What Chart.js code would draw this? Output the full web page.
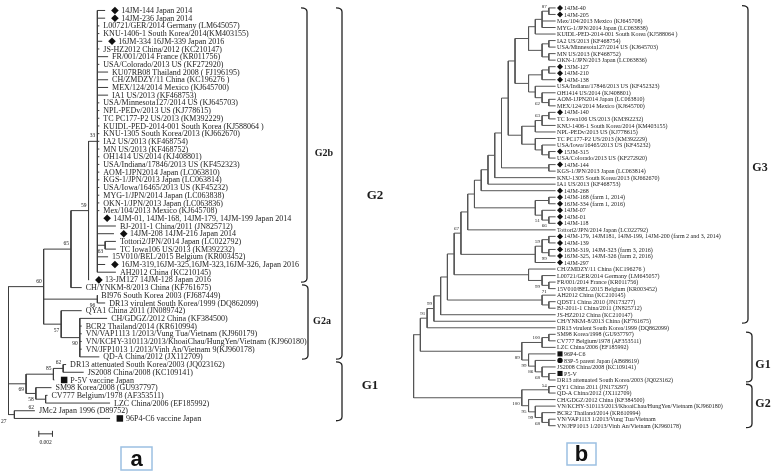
<!DOCTYPE html>
<html>
<head>
<meta charset="utf-8">
<title>PEDV S gene trees</title>
<script src="https://cdn.jsdelivr.net/npm/chart.js@4.4.1/dist/chart.umd.min.js"></script>
<style>
  body { margin: 0; background: #fff; }
  canvas { position: absolute; top: 0; }
</style>
</head>
<body>
<canvas id="treeA" width="390" height="472" style="left:0"></canvas>
<canvas id="treeB" width="388" height="472" style="left:390px"></canvas>
<script>
// ---------- tree a : distance tree (substitutions per site) ----------
const leafNamesA = [
  '14JM-144 Japan 2014', '14JM-236 Japan 2014', 'L00721/GER/2014 Germany (LM645057)',
  'KNU-1406-1 South Korea/2014(KM403155)', '16JM-334 16JM-339 Japan 2016', 'JS-HZ2012 China/2012 (KC210147)',
  'FR/001/2014 France (KR011756)', 'USA/Colorado/2013 US (KF272920)', 'KU07RB08 Thailand 2008 ( FJ196195)',
  'CH/ZMDZY/11 China (KC196276 )', 'MEX/124/2014 Mexico (KJ645700)', 'IA1 US/2013 (KF468753)',
  'USA/Minnesota127/2014 US (KJ645703)', 'NPL-PEDv/2013 US (KJ778615)', 'TC PC177-P2 US/2013 (KM392229)',
  'KUIDL-PED-2014-001 South Korea (KJ588064 )', 'KNU-1305 South Korea/2013 (KJ662670)', 'IA2 US/2013 (KF468754)',
  'MN US/2013 (KF468752)', 'OH1414 US/2014 (KJ408801)', 'USA/Indiana/17846/2013 US (KF452323)',
  'AOM-1JPN2014 Japan (LC063810)', 'KGS-1/JPN/2013 Japan (LC063814)', 'USA/Iowa/16465/2013 US (KF45232)',
  'MYG-1/JPN/2014 Japan (LC063838)', 'OKN-1/JPN/2013 Japan (LC063836)', 'Mex/104/2013 Mexico (KJ645708)',
  '14JM-01, 14JM-168, 14JM-179, 14JM-199 Japan 2014', 'BJ-2011-1 China/2011 (JN825712)', '14JM-208 14JM-216 Japan 2014',
  'Tottori2/JPN/2014 Japan (LC022792)', 'TC Iowa106 US/2013 (KM392232)', '15V010/BEL/2015 Belgium (KR003452)',
  '16JM-319,16JM-325,16JM-323,16JM-326, Japan 2016', 'AH2012 China (KC210145)', '13-JM127 14JM-128 Japan 2016',
  'CH/YNKM-8/2013 China (KF761675)', 'BI976 South Korea 2003 (FJ687449)', 'DR13 virulent South Korea/1999 (DQ862099)',
  'QYA1 China 2011 (JN089742)', 'CH/GDGZ/2012 China (KF384500)', 'BCR2 Thailand/2014 (KR610994)',
  'VN/VAP1113 1/2013/Vung Tua/Vietnam (KJ960179)', 'VN/KCHY-310113/2013/KhoaiChau/HungYen/Vietnam (KJ960180)',
  'VN/JFP1013 1/2013/Vinh An/Vietnam 9(KJ960178)', 'QD-A China/2012 (JX112709)',
  'DR13 attenuated South Korea/2003 (JQ023162)', 'JS2008 China/2008 (KC109141)', 'P-5V vaccine Japan',
  'SM98 Korea/2008 (GU937797)', 'CV777 Belgium/1978 (AF353511)', 'LZC China/2006 (EF185992)',
  'JMc2 Japan 1996 (D89752)', '96P4-C6 vaccine Japan'
];
const diamondLeavesA = [0, 1, 4, 27, 29, 33, 35];
const squareLeavesA = [48, 53];
const circleLeavesA = [];
// end of each terminal branch
const leafTipA = [
  0.01414, 0.01414, 0.01329, 0.01329, 0.01371, 0.01329, 0.01457, 0.01329, 0.01457, 0.01457,
  0.01457, 0.01457, 0.01329, 0.01329, 0.01329, 0.01329, 0.01329, 0.01329, 0.01329, 0.01329,
  0.01329, 0.01329, 0.01329, 0.01329, 0.01329, 0.01329, 0.01329, 0.01300, 0.01571, 0.01543,
  0.01571, 0.01571, 0.01457, 0.01414, 0.01571, 0.01179, 0.01071, 0.01300, 0.01414, 0.01071,
  0.01443, 0.01071, 0.01071, 0.01071, 0.01071, 0.01329, 0.00843, 0.01100, 0.00671, 0.00629,
  0.00571, 0.01486, 0.00386, 0.01486
];
// internal nodes: id, depth, bootstrap, children (leaf index or node id)
const nodesA = [
  ['n63', 0.01414, '63', [30, 31]],
  ['n33', 0.01300, '33', [0, 1, 2, 3, 4, 5, 6, 7, 8, 9, 10, 11, 12, 13, 14, 15, 16, 17, 18, 19,
                          20, 21, 22, 23, 24, 25, 26, 27, 28, 29, 'n63', 32, 33, 34]],
  ['n59', 0.01171, '59', ['n33', 35]],
  ['n65', 0.00914, '65', ['n59', 36]],
  ['n96', 0.01300, '96', [37, 38]],
  ['n90', 0.01043, '90', [40, 41, 42, 43, 44, 45]],
  ['n57', 0.00771, '57', [39, 'n90']],
  ['g2', 0.00514, '60', ['n65', 'n96', 'n57']],
  ['n62', 0.00800, '62', [46, 47]],
  ['n85', 0.00657, '85', ['n62', 48]],
  ['nC', 0.00543, '', [50, 51]],
  ['n58', 0.00400, '58', [49, 'nC']],
  ['n69', 0.00257, '69', ['n85', 'n58']],
  ['nJ', 0.00086, '62', [52, 53]],
  ['root', 0, '27', ['g2', 'n69', 'nJ']]
];
const cladeNamesA = ['G2b', 'G2', 'G2a', 'G1'];
const cladeFirstA = [0, 0, 36, 46];
const cladeLastA = [35, 45, 45, 53];
const cladeLabelRowA = [18.6, 24.1, 40.4, 48.7];
const scaleBarA = 0.002;

// ---------- tree b : cladogram, tips aligned ----------
const leafNamesB = [
  '14JM-40', '14JM-205', 'Mex/104/2013 Mexico (KJ645708)', 'MYG-1/JPN/2014 Japan (LC063838)',
  'KUIDL-PED-2014-001 South Korea (KJ588064 )', 'IA2 US/2013 (KF468754)', 'USA/Minnesota127/2014 US (KJ645703)',
  'MN US/2013 (KF468752)', 'OKN-1/JPN/2013 Japan (LC063836)', '13JM-127', '14JM-210', '14JM-138',
  'USA/Indiana/17846/2013 US (KF452323)', 'OH1414 US/2014 (KJ408801)', 'AOM-1JPN2014 Japan (LC063810)',
  'MEX/124/2014 Mexico (KJ645700)', '14JM-140', 'TC Iowa106 US/2013 (KM392232)',
  'KNU-1406-1 South Korea/2014 (KM403155)', 'NPL-PEDv/2013 US (KJ778615)', 'TC PC177-P2 US/2013 (KM392229)',
  'USA/Iowa/16465/2013 US (KF45232)', '15JM-315', 'USA/Colorado/2013 US (KF272920)', '14JM-144',
  'KGS-1/JPN/2013 Japan (LC063814)', 'KNU-1305 South Korea/2013 (KJ662670)', 'IA1 US/2013 (KF468753)',
  '14JM-268', '14JM-168 (farm 1, 2014)', '16JM-334 (farm 1, 2016)', '14JM-07', '14JM-01', '14JM-118',
  'Tottori2/JPN/2014 Japan (LC022792)', '14JM-179, 14JM181, 14JM-199, 14JM-200 (farm 2 and 3, 2014)',
  '14JM-139', '16JM-319, 14JM-323 (farm 3, 2016)', '16JM-325, 14JM-326 (farm 2, 2016)', '14JM-297',
  'CH/ZMDZY/11 China (KC196276 )', 'L00721/GER/2014 Germany (LM645057)', 'FR/001/2014 France (KR011756)',
  '15V010/BEL/2015 Belgium (KR003452)', 'AH2012 China (KC210145)', 'QDST1 China 2010 (JN173277)',
  'BJ-2011-1 China/2011 (JN825712)', 'JS-HZ2012 China (KC210147)', 'CH/YNKM-8/2013 China (KF761675)',
  'DR13 virulent South Korea/1999 (DQ862099)', 'SM98 Korea/1998 (GU937797)', 'CV777 Belgium/1978 (AF353511)',
  'LZC China/2006 (EF185992)', '96P4-C6', '83P-5 parent Japan (AB68619)', 'JS2008 China/2008 (KC109141)',
  'P5-V', 'DR13 attenuated South Korea/2003 (JQ023162)', 'QY1 China 2011 (JN173297)',
  'QD-A China/2012 (JX112709)', 'CH/GDGZ/2012 China (KF384500)',
  'VN/KCHY-310113/2013/KhoaiChau/HungYen/Vietnam (KJ960180)', 'BCR2 Thailand/2014 (KR610994)',
  'VN/VAP1113 1/2013/Vung Tua/Vietnam', 'VN/JFP1013 1/2013/Vinh An/Vietnam (KJ960178)'
];
const diamondLeavesB = [0, 1, 9, 10, 11, 16, 22, 24, 28, 29, 30, 31, 32, 33, 35, 36, 37, 38, 39];
const squareLeavesB = [53, 56];
const circleLeavesB = [54];
// node height in levels above the aligned tips
const nodesB = [
  ['b1', 1, '87', [0, 1]],
  ['b2', 2, '', ['b1', 2, 3]],
  ['b3', 3, '', ['b2', 4]],
  ['b4', 1, '', [5, 6]],
  ['b5', 1, '', [7, 8]],
  ['b6', 2, '', ['b4', 'b5']],
  ['b7', 4, '', ['b3', 'b6']],
  ['b8', 1, '', [9, 10]],
  ['b9', 2, '', ['b8', 11]],
  ['b10', 1, '', [14, 15]],
  ['b11', 2, '62', [13, 'b10']],
  ['b12', 3, '', [12, 'b11']],
  ['b13', 4, '', ['b9', 'b12']],
  ['b14', 6, '', ['b7', 'b13']],
  ['b15', 1, '', [16, 17]],
  ['b16', 2, '63', ['b15', 18]],
  ['b17', 3, '', ['b16', 19]],
  ['b18', 1, '', [22, 23]],
  ['b19', 2, '', [21, 'b18']],
  ['b20', 3, '', [20, 'b19']],
  ['b21', 5, '', ['b17', 'b20']],
  ['b22', 7, '', ['b14', 'b21']],
  ['b23', 1, '', [24, 25]],
  ['b24', 8, '', ['b22', 'b23']],
  ['b25', 9, '', ['b24', 26]],
  ['b26', 10, '', ['b25', 27]],
  ['b27', 11, '', ['b26', 28]],
  ['b28', 1, '', [29, 30]],
  ['b29', 1, '66', [32, 33]],
  ['b30', 2, '51', [31, 'b29']],
  ['b31', 3, '', ['b28', 'b30']],
  ['b32', 12, '', ['b27', 'b31']],
  ['b33', 13, '', ['b32', 34]],
  ['b35', 1, '', [35, 36]],
  ['b36', 1, '99', [37, 38]],
  ['b37', 2, '59', ['b35', 'b36']],
  ['b38', 3, '', ['b37', 39]],
  ['b39', 14, '67', ['b33', 'b38']],
  ['b40', 1, '71', [42, 43]],
  ['b41', 2, '99', [41, 'b40']],
  ['b42', 4, '', [40, 'b41']],
  ['b43', 15, '', ['b39', 'b42']],
  ['b44a', 1, '', [45, 46]],
  ['b44', 2, '', [44, 'b44a']],
  ['b45', 16, '', ['b43', 'b44']],
  ['b46', 17, '', ['b45', 47]],
  ['b47', 18, '99', ['b46', 48]],
  ['b48', 19, '91', ['b47', 49]],
  ['g1a', 1, '', [50, 51]],
  ['g1b', 2, '100', ['g1a', 52]],
  ['g1c', 1, '', [56, 57]],
  ['g1d', 2, '68', [55, 'g1c']],
  ['g1e', 3, '86', [54, 'g1d']],
  ['g1f', 4, '99', [53, 'g1e']],
  ['g1', 5, '89', ['g1b', 'g1f']],
  ['b49', 20, '', ['b48', 'g1']],
  ['g2a', 1, '54', [58, 59]],
  ['g2b', 1, '', [63, 64]],
  ['g2c', 2, '68', [62, 'g2b']],
  ['g2d', 3, '99', [61, 'g2c']],
  ['g2e', 4, '95', [60, 'g2d']],
  ['g2', 5, '100', ['g2a', 'g2e']],
  ['root', 21, '', ['b49', 'g2']]
];
const cladeNamesB = ['G3', 'G1', 'G2'];
const cladeFirstB = [0, 50, 58];
const cladeLastB = [48, 57, 64];
const cladeLabelRowB = [24.5, 54.7, 60.7];

// ---------- helpers ----------
function layoutTree(nodes, tips) {
  const def = {};
  nodes.forEach(function (n) { def[n[0]] = n; });
  const placed = [];
  function place(ref, first) {
    if (typeof ref === 'number') return { x: tips[ref], y: ref };
    const n = def[ref];
    const kids = n[3].map(function (c, j) { return place(c, j === 0); });
    const node = { x: n[1], boot: n[2], kids: kids, root: ref === 'root', first: first,
                   y: (kids[0].y + kids[kids.length - 1].y) / 2 };
    placed.push(node);
    return node;
  }
  place('root', true);
  return placed;
}

function branchData(placed) {
  const pts = [];
  placed.forEach(function (n) {
    const a = n.kids[0], b = n.kids[n.kids.length - 1];
    pts.push({ x: a.x, y: a.y }, { x: n.x, y: a.y }, { x: n.x, y: b.y }, { x: b.x, y: b.y }, { x: n.x, y: null });
    n.kids.slice(1, -1).forEach(function (c) {
      pts.push({ x: n.x, y: c.y }, { x: c.x, y: c.y }, { x: n.x, y: null });
    });
  });
  return pts;
}

function bracket(ctx, x, y0, y1) {
  ctx.beginPath();
  ctx.moveTo(x - 6, y0);
  ctx.quadraticCurveTo(x, y0, x, y0 + 4);
  ctx.lineTo(x, y1 - 4);
  ctx.quadraticCurveTo(x, y1, x - 6, y1);
  ctx.stroke();
}

function textLayer(p) {
  return {
    id: 'textLayer',
    afterDatasetsDraw(chart) {
      const ctx = chart.ctx, xs = chart.scales.x, ys = chart.scales.y;
      ctx.save();
      ctx.fillStyle = '#1c1c1c';
      ctx.textBaseline = 'middle';

      ctx.font = p.leafFont;
      ctx.textAlign = 'left';
      p.names.forEach(function (name, i) {
        const gap = p.marked.includes(i) ? p.markTextGap : p.textGap;
        ctx.fillText(name, xs.getPixelForValue(p.tips[i]) + gap, ys.getPixelForValue(i) + 0.5);
      });

      // bootstrap values, left of each node; near the left edge they go above the first branch
      ctx.font = p.bootFont;
      p.nodes.forEach(function (n) {
        if (!n.boot) return;
        const nx = xs.getPixelForValue(n.x);
        if (n.root) {
          ctx.textAlign = 'left';
          ctx.fillText(n.boot, 1, ys.getPixelForValue(n.kids[n.kids.length - 1].y) + 7);
        } else if (nx < 16) {
          ctx.textAlign = 'left';
          ctx.fillText(n.boot, nx + 14, ys.getPixelForValue(n.kids[0].y) - 3.5);
        } else {
          ctx.textAlign = 'right';
          ctx.fillText(n.boot, nx - 2, ys.getPixelForValue(n.y) + (n.first ? -p.bootAbove : p.bootBelow));
        }
      });

      // clade brackets and names
      ctx.strokeStyle = '#222';
      ctx.lineWidth = 1.3;
      ctx.textAlign = 'center';
      p.clades.names.forEach(function (name, k) {
        const y0 = ys.getPixelForValue(p.clades.first[k] - 0.35);
        const y1 = ys.getPixelForValue(p.clades.last[k] + 0.3);
        bracket(ctx, p.clades.col[k], y0, y1);
        ctx.font = p.clades.font[k];
        ctx.fillText(name, p.clades.labelX[k], ys.getPixelForValue(p.clades.labelRow[k]));
      });

      if (p.scaleBar) {
        const s = p.scaleBar;
        const x0 = xs.getPixelForValue(s.from), x1 = xs.getPixelForValue(s.from + s.len);
        const y = ys.getPixelForValue(s.row);
        ctx.strokeStyle = '#333';
        ctx.lineWidth = 1;
        ctx.beginPath();
        ctx.moveTo(x0, y); ctx.lineTo(x1, y);
        ctx.moveTo(x0, y - 3); ctx.lineTo(x0, y + 3);
        ctx.moveTo(x1, y - 3); ctx.lineTo(x1, y + 3);
        ctx.stroke();
        ctx.font = p.bootFont;
        ctx.fillText(s.text, (x0 + x1) / 2, y + 9);
      }

      const b = p.box;
      ctx.strokeStyle = '#9cc0e2';
      ctx.lineWidth = 1.5;
      ctx.strokeRect(b.x, b.y, b.w, b.h);
      ctx.fillStyle = '#111';
      ctx.font = 'bold 22px "Liberation Sans", Arial, sans-serif';
      ctx.fillText(b.text, b.x + b.w / 2, b.y + b.h / 2 + 1);
      ctx.restore();
    }
  };
}

function drawTree(canvasId, t) {
  const placed = layoutTree(t.nodes, t.tips);
  const marked = t.diamonds.concat(t.squares, t.circles);
  const styles = marked.map(function (i) {
    return t.diamonds.includes(i) ? 'rectRot' : (t.squares.includes(i) ? 'rect' : 'circle');
  });
  const radii = styles.map(function (s) { return t.markSize[s]; });
  const config = {
    type: 'line',
    data: {
      datasets: [
        {
          data: branchData(placed),
          borderColor: t.lineColor,
          borderWidth: 1,
          pointRadius: 0,
          spanGaps: false,
          tension: 0,
          clip: false
        },
        {
          data: marked.map(function (i) { return { x: t.tips[i] + t.markGap, y: i }; }),
          showLine: false,
          pointStyle: styles,
          pointRadius: radii,
          backgroundColor: '#111',
          borderColor: '#111',
          borderWidth: 0,
          clip: false
        }
      ]
    },
    options: {
      responsive: false,
      animation: false,
      events: [],
      layout: { padding: 0 },
      scales: {
        x: { type: 'linear', display: false, min: t.xMin, max: t.xMax, reverse: t.xReverse },
        y: { type: 'linear', display: false, min: t.yMin, max: t.yMax, reverse: true }
      },
      plugins: { legend: { display: false }, tooltip: { enabled: false } }
    },
    plugins: [textLayer({
      names: t.names, tips: t.tips, marked: marked, nodes: placed,
      leafFont: t.leafFont, bootFont: t.bootFont, textGap: t.textGap, markTextGap: t.markTextGap,
      bootAbove: t.bootAbove, bootBelow: t.bootBelow,
      clades: t.clades, scaleBar: t.scaleBar, box: t.box
    })]
  };
  return new Chart(document.getElementById(canvasId), config);
}

const serif = '"Liberation Serif", "Times New Roman", serif';

drawTree('treeA', {
  names: leafNamesA, tips: leafTipA, nodes: nodesA,
  diamonds: diamondLeavesA, squares: squareLeavesA, circles: circleLeavesA,
  markSize: { rectRot: 3.8, rect: 4.6, circle: 3 }, markGap: 0.00143,
  xMin: -0.000571, xMax: 0.05514, xReverse: false, yMin: -0.764, yMax: 59.36,
  lineColor: '#3c3c3c', leafFont: '8px ' + serif, bootFont: '5.5px ' + serif,
  textGap: 4, markTextGap: 16, bootAbove: 5.5, bootBelow: 6,
  clades: {
    names: cladeNamesA, first: cladeFirstA, last: cladeLastA, labelRow: cladeLabelRowA,
    col: [307, 342, 308, 342], labelX: [324, 375, 322, 370],
    font: ['bold 10px ' + serif, 'bold 13px ' + serif, 'bold 10px ' + serif, 'bold 13px ' + serif]
  },
  scaleBar: { from: 0.00443, len: scaleBarA, row: 55.0, text: '0.002' },
  box: { text: 'a', x: 121, y: 447, w: 31, h: 23 }
});

drawTree('treeB', {
  names: leafNamesB, tips: leafNamesB.map(function () { return 0; }), nodes: nodesB,
  diamonds: diamondLeavesB, squares: squareLeavesB, circles: circleLeavesB,
  markSize: { rectRot: 3, rect: 3.6, circle: 2.7 }, markGap: -0.65,
  xMin: -32.3, xMax: 23.9, xReverse: true, yMin: -0.602, yMax: 70.48,
  lineColor: '#555', leafFont: '6px ' + serif, bootFont: '5px ' + serif,
  textGap: 1.5, markTextGap: 8.5, bootAbove: 4.5, bootBelow: 6,
  clades: {
    names: cladeNamesB, first: cladeFirstB, last: cladeLastB, labelRow: cladeLabelRowB,
    col: [358, 362, 362], labelX: [370, 373, 373],
    font: ['bold 12px ' + serif, 'bold 12px ' + serif, 'bold 12px ' + serif]
  },
  scaleBar: null,
  box: { text: 'b', x: 177, y: 443, w: 29, h: 22 }
});
</script>
</body>
</html>
